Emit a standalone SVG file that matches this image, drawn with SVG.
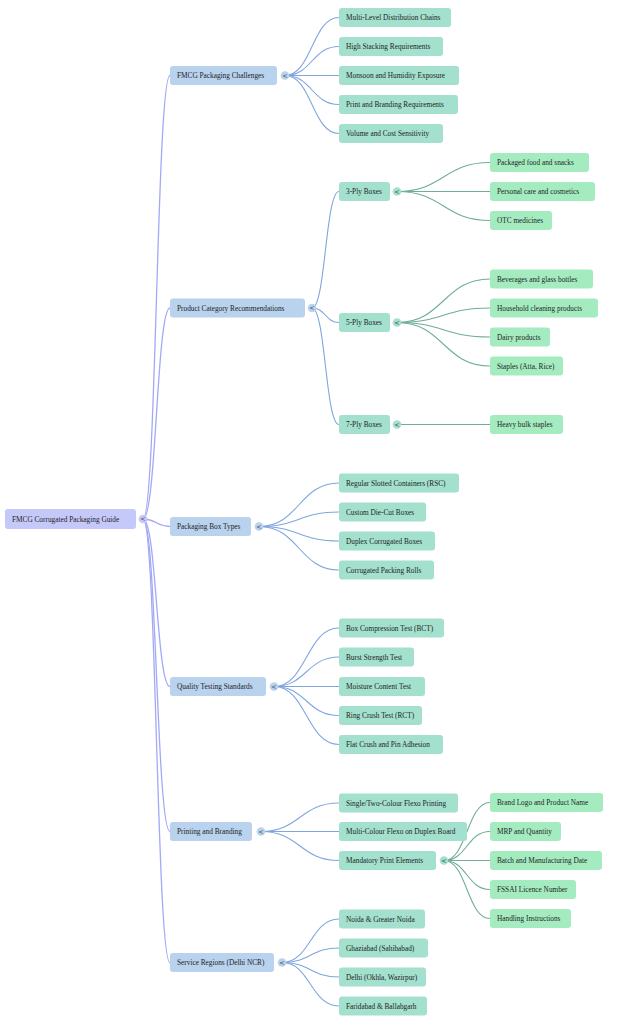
<svg xmlns="http://www.w3.org/2000/svg" width="620" height="1024" viewBox="0 0 620 1024">
<style>
text{font-family:"Liberation Serif","Times New Roman",serif;font-size:7.3px;fill:#1e1e24;}
.c0{fill:#c5c9f9;}
.c1{fill:#b9d2ed;}
.c2{fill:#a3e0cd;}
.c3{fill:#a4ecbf;}
.l0{fill:none;stroke:#a3a9f6;stroke-width:1.3;}
.l1{fill:none;stroke:#80a5df;stroke-width:1.1;}
.l2{fill:none;stroke:#6fae94;stroke-width:1.1;}
.tg{font-family:"DejaVu Sans",sans-serif;font-size:6.5px;fill:#445;text-anchor:middle;}
</style>
<g id="connectors">
<path class="l0" d="M143,519 C156.5,519 156.5,75.5 170,75.5"/>
<path class="l0" d="M143,519 C156.5,519 156.5,308 170,308"/>
<path class="l0" d="M143,519 C156.5,519 156.5,526.5 170,526.5"/>
<path class="l0" d="M143,519 C156.5,519 156.5,686.5 170,686.5"/>
<path class="l0" d="M143,519 C156.5,519 156.5,831.5 170,831.5"/>
<path class="l0" d="M143,519 C156.5,519 156.5,962.5 170,962.5"/>
<path class="l1" d="M285,75.5 C312,75.5 312,17.5 339,17.5"/>
<path class="l1" d="M285,75.5 C312,75.5 312,46.5 339,46.5"/>
<path class="l1" d="M285,75.5 C312,75.5 312,75.5 339,75.5"/>
<path class="l1" d="M285,75.5 C312,75.5 312,104.5 339,104.5"/>
<path class="l1" d="M285,75.5 C312,75.5 312,133.5 339,133.5"/>
<path class="l1" d="M312,308 C325.5,308 325.5,191.5 339,191.5"/>
<path class="l1" d="M312,308 C325.5,308 325.5,322.5 339,322.5"/>
<path class="l1" d="M312,308 C325.5,308 325.5,424.5 339,424.5"/>
<path class="l2" d="M397,191.5 C443.5,191.5 443.5,162.5 490,162.5"/>
<path class="l2" d="M397,191.5 C443.5,191.5 443.5,191.5 490,191.5"/>
<path class="l2" d="M397,191.5 C443.5,191.5 443.5,220.5 490,220.5"/>
<path class="l2" d="M397,322.5 C443.5,322.5 443.5,279 490,279"/>
<path class="l2" d="M397,322.5 C443.5,322.5 443.5,308 490,308"/>
<path class="l2" d="M397,322.5 C443.5,322.5 443.5,337 490,337"/>
<path class="l2" d="M397,322.5 C443.5,322.5 443.5,366 490,366"/>
<path class="l2" d="M397,424.5 C443.5,424.5 443.5,424.5 490,424.5"/>
<path class="l1" d="M259,526.5 C299,526.5 299,483 339,483"/>
<path class="l1" d="M259,526.5 C299,526.5 299,512 339,512"/>
<path class="l1" d="M259,526.5 C299,526.5 299,541 339,541"/>
<path class="l1" d="M259,526.5 C299,526.5 299,570 339,570"/>
<path class="l1" d="M274,686.5 C306.5,686.5 306.5,628 339,628"/>
<path class="l1" d="M274,686.5 C306.5,686.5 306.5,657 339,657"/>
<path class="l1" d="M274,686.5 C306.5,686.5 306.5,686.5 339,686.5"/>
<path class="l1" d="M274,686.5 C306.5,686.5 306.5,715.5 339,715.5"/>
<path class="l1" d="M274,686.5 C306.5,686.5 306.5,744.5 339,744.5"/>
<path class="l1" d="M261,831.5 C300,831.5 300,803 339,803"/>
<path class="l1" d="M261,831.5 C300,831.5 300,831.5 339,831.5"/>
<path class="l1" d="M261,831.5 C300,831.5 300,860.5 339,860.5"/>
<path class="l2" d="M444,860.5 C467,860.5 467,802.5 490,802.5"/>
<path class="l2" d="M444,860.5 C467,860.5 467,831.5 490,831.5"/>
<path class="l2" d="M444,860.5 C467,860.5 467,860.5 490,860.5"/>
<path class="l2" d="M444,860.5 C467,860.5 467,889.5 490,889.5"/>
<path class="l2" d="M444,860.5 C467,860.5 467,918.5 490,918.5"/>
<path class="l1" d="M282,962.5 C310.5,962.5 310.5,919 339,919"/>
<path class="l1" d="M282,962.5 C310.5,962.5 310.5,948 339,948"/>
<path class="l1" d="M282,962.5 C310.5,962.5 310.5,977 339,977"/>
<path class="l1" d="M282,962.5 C310.5,962.5 310.5,1006 339,1006"/>
</g>

<g id="root">
<rect class="c0" x="5" y="509" width="131" height="20" rx="3"/>
<text x="12" y="521.5">FMCG Corrugated Packaging Guide</text>
<circle class="c0" cx="143" cy="519" r="4.3"/><text class="tg" x="143" y="521.3">&lt;</text>
</g>

<g id="n-challenges">
<rect class="c1" x="170" y="66" width="107" height="19" rx="3"/>
<text x="177" y="78">FMCG Packaging Challenges</text>
<circle class="c1" cx="285" cy="75.5" r="4.3"/><text class="tg" x="285" y="77.8">&lt;</text>
</g>
<g id="n-c1"><rect class="c2" x="339" y="8" width="112" height="19" rx="3"/><text x="346" y="20">Multi-Level Distribution Chains</text></g>
<g id="n-c2"><rect class="c2" x="339" y="37" width="104" height="19" rx="3"/><text x="346" y="49">High Stacking Requirements</text></g>
<g id="n-c3"><rect class="c2" x="339" y="66" width="120" height="19" rx="3"/><text x="346" y="78">Monsoon and Humidity Exposure</text></g>
<g id="n-c4"><rect class="c2" x="339" y="95" width="119" height="19" rx="3"/><text x="346" y="107">Print and Branding Requirements</text></g>
<g id="n-c5"><rect class="c2" x="339" y="124" width="104" height="19" rx="3"/><text x="346" y="136">Volume and Cost Sensitivity</text></g>

<g id="n-product">
<rect class="c1" x="170" y="298.5" width="135" height="19" rx="3"/>
<text x="177" y="310.5">Product Category Recommendations</text>
<circle class="c1" cx="312" cy="308" r="4.3"/><text class="tg" x="312" y="310.3">&lt;</text>
</g>
<g id="n-3ply">
<rect class="c2" x="339" y="182" width="51" height="19" rx="3"/>
<text x="346" y="194">3-Ply Boxes</text>
<circle class="c2" cx="397" cy="191.5" r="4.3"/><text class="tg" x="397" y="193.8">&lt;</text>
</g>
<g id="n-3a"><rect class="c3" x="490" y="153" width="99" height="19" rx="3"/><text x="497" y="165">Packaged food and snacks</text></g>
<g id="n-3b"><rect class="c3" x="490" y="182" width="105" height="19" rx="3"/><text x="497" y="194">Personal care and cosmetics</text></g>
<g id="n-3c"><rect class="c3" x="490" y="211" width="62" height="19" rx="3"/><text x="497" y="223">OTC medicines</text></g>
<g id="n-5ply">
<rect class="c2" x="339" y="313" width="51" height="19" rx="3"/>
<text x="346" y="325">5-Ply Boxes</text>
<circle class="c2" cx="397" cy="322.5" r="4.3"/><text class="tg" x="397" y="324.8">&lt;</text>
</g>
<g id="n-5a"><rect class="c3" x="490" y="269.5" width="103" height="19" rx="3"/><text x="497" y="281.5">Beverages and glass bottles</text></g>
<g id="n-5b"><rect class="c3" x="490" y="298.5" width="108" height="19" rx="3"/><text x="497" y="310.5">Household cleaning products</text></g>
<g id="n-5c"><rect class="c3" x="490" y="327.5" width="60" height="19" rx="3"/><text x="497" y="339.5">Dairy products</text></g>
<g id="n-5d"><rect class="c3" x="490" y="356.5" width="73" height="19" rx="3"/><text x="497" y="368.5">Staples (Atta, Rice)</text></g>
<g id="n-7ply">
<rect class="c2" x="339" y="415" width="51" height="19" rx="3"/>
<text x="346" y="427">7-Ply Boxes</text>
<circle class="c2" cx="397" cy="424.5" r="4.3"/><text class="tg" x="397" y="426.8">&lt;</text>
</g>
<g id="n-7a"><rect class="c3" x="490" y="415" width="73" height="19" rx="3"/><text x="497" y="427">Heavy bulk staples</text></g>

<g id="n-boxtypes">
<rect class="c1" x="170" y="517" width="81" height="19" rx="3"/>
<text x="177" y="529">Packaging Box Types</text>
<circle class="c1" cx="259" cy="526.5" r="4.3"/><text class="tg" x="259" y="528.8">&lt;</text>
</g>
<g id="n-b1"><rect class="c2" x="339" y="473.5" width="120" height="19" rx="3"/><text x="346" y="485.5">Regular Slotted Containers (RSC)</text></g>
<g id="n-b2"><rect class="c2" x="339" y="502.5" width="87" height="19" rx="3"/><text x="346" y="514.5">Custom Die-Cut Boxes</text></g>
<g id="n-b3"><rect class="c2" x="339" y="531.5" width="96" height="19" rx="3"/><text x="346" y="543.5">Duplex Corrugated Boxes</text></g>
<g id="n-b4"><rect class="c2" x="339" y="560.5" width="95" height="19" rx="3"/><text x="346" y="572.5">Corrugated Packing Rolls</text></g>

<g id="n-quality">
<rect class="c1" x="170" y="677" width="96" height="19" rx="3"/>
<text x="177" y="689">Quality Testing Standards</text>
<circle class="c1" cx="274" cy="686.5" r="4.3"/><text class="tg" x="274" y="688.8">&lt;</text>
</g>
<g id="n-q1"><rect class="c2" x="339" y="618.5" width="105" height="19" rx="3"/><text x="346" y="630.5">Box Compression Test (BCT)</text></g>
<g id="n-q2"><rect class="c2" x="339" y="647.5" width="75" height="19" rx="3"/><text x="346" y="659.5">Burst Strength Test</text></g>
<g id="n-q3"><rect class="c2" x="339" y="677" width="86" height="19" rx="3"/><text x="346" y="689">Moisture Content Test</text></g>
<g id="n-q4"><rect class="c2" x="339" y="706" width="83" height="19" rx="3"/><text x="346" y="718">Ring Crush Test (RCT)</text></g>
<g id="n-q5"><rect class="c2" x="339" y="735" width="104" height="19" rx="3"/><text x="346" y="747">Flat Crush and Pin Adhesion</text></g>

<g id="n-printing">
<rect class="c1" x="170" y="822" width="82" height="19" rx="3"/>
<text x="177" y="834">Printing and Branding</text>
<circle class="c1" cx="261" cy="831.5" r="4.3"/><text class="tg" x="261" y="833.8">&lt;</text>
</g>
<g id="n-p1"><rect class="c2" x="339" y="793.5" width="119" height="19" rx="3"/><text x="346" y="805.5">Single/Two-Colour Flexo Printing</text></g>
<g id="n-p2"><rect class="c2" x="339" y="822" width="128" height="19" rx="3"/><text x="346" y="834">Multi-Colour Flexo on Duplex Board</text></g>
<g id="n-p3">
<rect class="c2" x="339" y="851" width="97" height="19" rx="3"/>
<text x="346" y="863">Mandatory Print Elements</text>
<circle class="c2" cx="444" cy="860.5" r="4.3"/><text class="tg" x="444" y="862.8">&lt;</text>
</g>
<g id="n-m1"><rect class="c3" x="490" y="793" width="113" height="19" rx="3"/><text x="497" y="805">Brand Logo and Product Name</text></g>
<g id="n-m2"><rect class="c3" x="490" y="822" width="71" height="19" rx="3"/><text x="497" y="834">MRP and Quantity</text></g>
<g id="n-m3"><rect class="c3" x="490" y="851" width="112" height="19" rx="3"/><text x="497" y="863">Batch and Manufacturing Date</text></g>
<g id="n-m4"><rect class="c3" x="490" y="880" width="86" height="19" rx="3"/><text x="497" y="892">FSSAI Licence Number</text></g>
<g id="n-m5"><rect class="c3" x="490" y="909" width="81" height="19" rx="3"/><text x="497" y="921">Handling Instructions</text></g>

<g id="n-service">
<rect class="c1" x="170" y="953" width="104" height="19" rx="3"/>
<text x="177" y="965">Service Regions (Delhi NCR)</text>
<circle class="c1" cx="282" cy="962.5" r="4.3"/><text class="tg" x="282" y="964.8">&lt;</text>
</g>
<g id="n-s1"><rect class="c2" x="339" y="909.5" width="86" height="19" rx="3"/><text x="346" y="921.5">Noida &amp; Greater Noida</text></g>
<g id="n-s2"><rect class="c2" x="339" y="938.5" width="89" height="19" rx="3"/><text x="346" y="950.5">Ghaziabad (Sahibabad)</text></g>
<g id="n-s3"><rect class="c2" x="339" y="967.5" width="87" height="19" rx="3"/><text x="346" y="979.5">Delhi (Okhla, Wazirpur)</text></g>
<g id="n-s4"><rect class="c2" x="339" y="996.5" width="88" height="19" rx="3"/><text x="346" y="1008.5">Faridabad &amp; Ballabgarh</text></g>
</svg>
